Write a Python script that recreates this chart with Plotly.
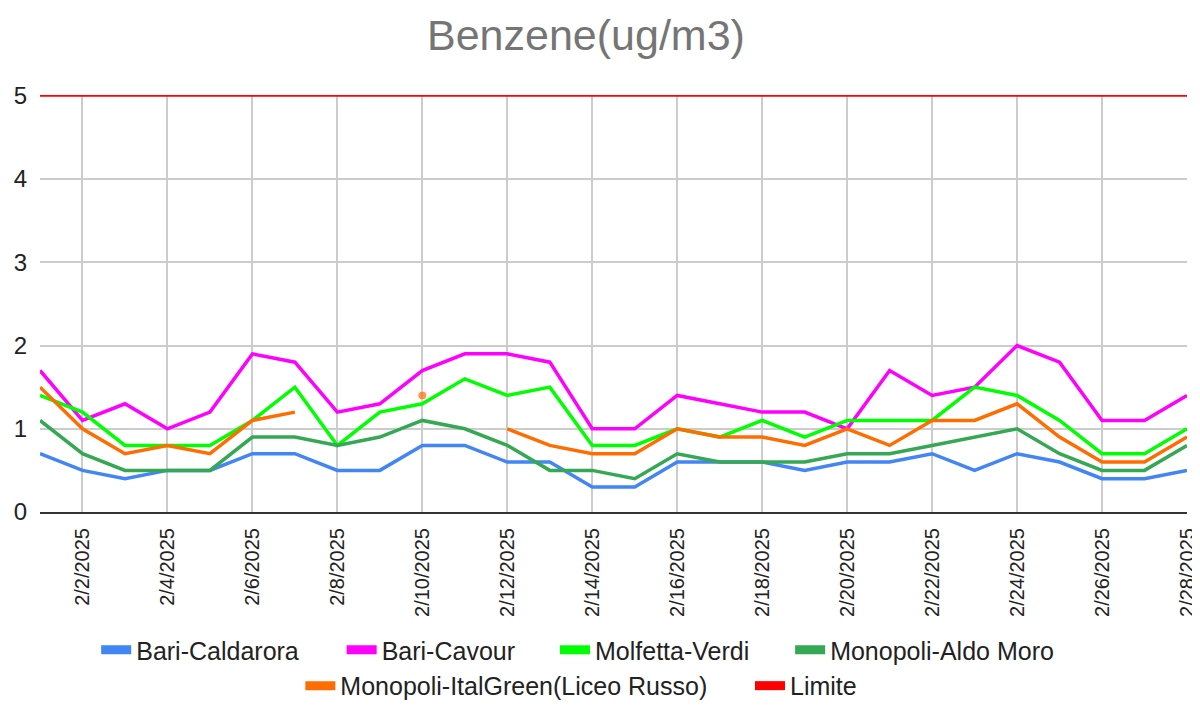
import plotly.graph_objects as go
import pandas as pd

dates = pd.date_range("2025-02-01", "2025-02-28", freq="D")

bari_caldarora = [0.7, 0.5, 0.4, 0.5, 0.5, 0.7, 0.7, 0.5, 0.5, 0.8, 0.8, 0.6, 0.6, 0.3,
                  0.3, 0.6, 0.6, 0.6, 0.5, 0.6, 0.6, 0.7, 0.5, 0.7, 0.6, 0.4, 0.4, 0.5]
bari_cavour = [1.7, 1.1, 1.3, 1.0, 1.2, 1.9, 1.8, 1.2, 1.3, 1.7, 1.9, 1.9, 1.8, 1.0,
               1.0, 1.4, 1.3, 1.2, 1.2, 1.0, 1.7, 1.4, 1.5, 2.0, 1.8, 1.1, 1.1, 1.4]
molfetta_verdi = [1.4, 1.2, 0.8, 0.8, 0.8, 1.1, 1.5, 0.8, 1.2, 1.3, 1.6, 1.4, 1.5, 0.8,
                  0.8, 1.0, 0.9, 1.1, 0.9, 1.1, 1.1, 1.1, 1.5, 1.4, 1.1, 0.7, 0.7, 1.0]
monopoli_aldo_moro = [1.1, 0.7, 0.5, 0.5, 0.5, 0.9, 0.9, 0.8, 0.9, 1.1, 1.0, 0.8, 0.5, 0.5,
                      0.4, 0.7, 0.6, 0.6, 0.6, 0.7, 0.7, 0.8, 0.9, 1.0, 0.7, 0.5, 0.5, 0.8]
monopoli_italgreen = [1.5, 1.0, 0.7, 0.8, 0.7, 1.1, 1.2, None, None, 1.4, None, 1.0, 0.8, 0.7,
                      0.7, 1.0, 0.9, 0.9, 0.8, 1.0, 0.8, 1.1, 1.1, 1.3, 0.9, 0.6, 0.6, 0.9]
limite = [5] * 28

tick_dates = dates[1::2]
tick_labels = [f"{d.month}/{d.day}/{d.year}" for d in tick_dates]

# name, values, colour, legend slot (x in paper units, row)
series = [
    ("Bari-Caldarora", bari_caldarora, "#4285F4", 0.049, 0),
    ("Bari-Cavour", bari_cavour, "#FF00FF", 0.263, 0),
    ("Molfetta-Verdi", molfetta_verdi, "#00FF00", 0.449, 0),
    ("Monopoli-Aldo Moro", monopoli_aldo_moro, "#34A853", 0.654, 0),
    ("Monopoli-ItalGreen(Liceo Russo)", monopoli_italgreen, "#FF6D01", 0.227, 1),
    ("Limite", limite, "#FF0000", 0.619, 1),
]
row_y = [-0.331, -0.417]


def lone_point_sizes(vals):
    # show a dot where a value has no neighbours to connect to
    sizes = []
    for i, v in enumerate(vals):
        prev_ok = i > 0 and vals[i - 1] is not None
        next_ok = i < len(vals) - 1 and vals[i + 1] is not None
        sizes.append(9 if v is not None and not prev_ok and not next_ok else 0)
    return sizes


fig = go.Figure()
legends = {}
for i, (name, vals, color, lx, row) in enumerate(series):
    leg = "legend" if i == 0 else f"legend{i + 1}"
    legends[leg] = {
        "orientation": "h",
        "x": lx,
        "xanchor": "left",
        "y": row_y[row],
        "yanchor": "middle",
        "font": {"size": 25, "color": "#222222"},
        "itemwidth": 30,
        "bgcolor": "rgba(0,0,0,0)",
    }
    fig.add_trace(
        go.Scatter(
            x=dates,
            y=vals,
            mode="lines+markers",
            name=name,
            legendgroup=name,
            showlegend=False,
            line={"color": color, "width": 2 if name == "Limite" else 3.5},
            marker={"size": lone_point_sizes(vals), "color": color},
            connectgaps=False,
        )
    )
    # legend swatch only (thick bar like the sheets legend)
    fig.add_trace(
        go.Scatter(
            x=[None],
            y=[None],
            mode="lines",
            name=name,
            legendgroup=name,
            legend=leg,
            line={"color": color, "width": 9},
        )
    )

fig.update_layout(
    width=1192,
    height=718,
    paper_bgcolor="white",
    plot_bgcolor="white",
    font={"family": "Liberation Sans, Arial, sans-serif", "size": 20, "color": "#222222"},
    title={
        "text": "Benzene(ug/m3)",
        "xref": "paper",
        "x": 0.476,
        "xanchor": "center",
        "y": 0.962,
        "yanchor": "middle",
        "font": {"size": 43, "color": "#757575"},
    },
    margin={"l": 32, "r": 13, "t": 87, "b": 214},
    showlegend=True,
    **legends,
)

fig.update_xaxes(
    range=[dates[0], dates[-1]],
    tickvals=tick_dates,
    ticktext=tick_labels,
    tickangle=-90,
    tickfont={"size": 20, "color": "#222222"},
    showgrid=True,
    gridcolor="#cccccc",
    gridwidth=1.5,
    showline=True,
    linecolor="#333333",
    linewidth=2,
    ticks="",
    ticklabelstandoff=6,
    automargin=False,
)
fig.update_yaxes(
    range=[0, 5.01],
    tickvals=[0, 1, 2, 3, 4, 5],
    tickfont={"size": 24, "color": "#222222"},
    showgrid=True,
    gridcolor="#cccccc",
    gridwidth=1.5,
    zeroline=False,
    ticks="",
    ticklabelstandoff=12,
    automargin=False,
)

fig.write_html("out.html")
